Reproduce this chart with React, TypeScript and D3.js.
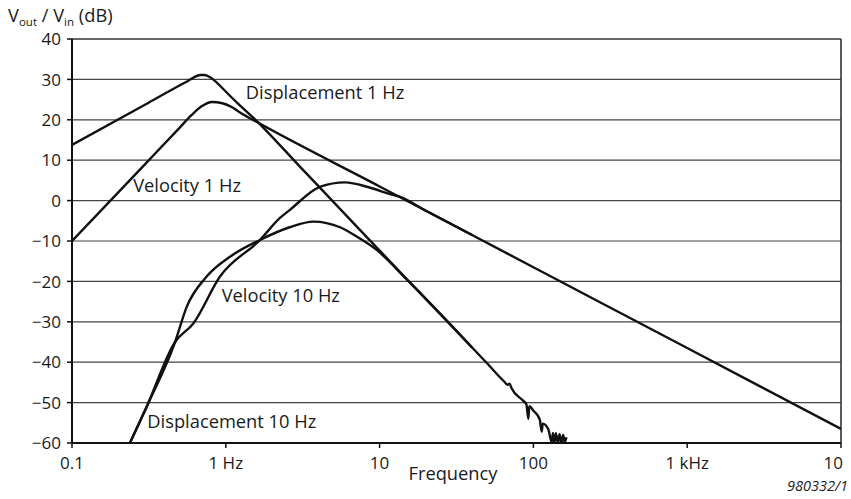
import React from "react";
import * as d3 from "d3";

const xTickValues = [0.1, 1, 10, 100, 1000, 10000];
const xTickLabels = ["0.1", "1 Hz", "10", "100", "1 kHz", "10"];
const yTickValues = [40, 30, 20, 10, 0, -10, -20, -30, -40, -50, -60];
const yTickLabels = ["40", "30", "20", "10", "0", "\u221210", "\u221220", "\u221230", "\u221240", "\u221250", "\u221260"];

// [frequency Hz, dB]
const displacement1Hz: [number, number][] = [
  [0.1, 13.8], [0.3, 23.8], [0.5, 28.5], [0.56, 29.5], [0.62, 30.5], [0.68, 31.1],
  [0.73, 31.1], [0.8, 30.4], [0.88, 29.1], [0.97, 27.5], [1.1, 25.4], [1.25, 23.4], [1.56, 20.0],
  [3, 8.6], [7.47, -7.3], [15, -19.4], [28, -30.2], [48.4, -39.7], [65, -44.9],
  [68, -45.6], [70, -45.3], [72, -46.4], [85, -49.4], [90, -50.4], [92.7, -54.0], [94, -50.9],
  [100, -52.0], [110, -54.2], [113.3, -57.2], [115, -55.2], [125, -56.6], [131.5, -59.8],
  [134, -57.5], [137, -60], [140, -57.6], [144, -59.9], [148, -57.8], [152, -60.2], [156, -58],
  [160, -59.8], [164, -58.6],
];

const velocity1Hz: [number, number][] = [
  [0.1, -10], [0.3, 9.1], [0.5, 18.0], [0.6, 21.2], [0.7, 23.4],
  [0.813, 24.4], [0.95, 24.1], [1.1, 23.1], [1.25, 21.7], [1.435, 20.4], [10, 3.5], [100, -16.5],
  [1000, -36.5], [10000, -56.5],
];

const displacement10Hz: [number, number][] = [
  [0.238, -60], [0.306, -51], [0.468, -35], [0.557, -26.3], [0.751, -18.8], [1.065, -13.9],
  [1.668, -9.75], [2.6, -6.6], [3.71, -5.2], [5.53, -6.6], [7.1, -8.9], [9.57, -12.2],
  [15, -19.5], [20, -24.3], [30, -31.3], [40, -36.4],
];

const velocity10Hz: [number, number][] = [
  [0.238, -60], [0.306, -51], [0.468, -35], [0.615, -30.4], [0.917, -18.8], [1.668, -9.75],
  [2.25, -4.3], [2.61, -2.3], [4.09, 3.4], [5.96, 4.5], [8.5, 3.3], [11.7, 1.6], [13.6, 0.9],
  [20, -2.5], [40, -8.5],
];

const curveLabels = [
  { text: "Displacement 1 Hz", f: 1.35, db: 25.1 },
  { text: "Velocity 1 Hz", f: 0.25, db: 2.2 },
  { text: "Velocity 10 Hz", f: 0.94, db: -25.0 },
  { text: "Displacement 10 Hz", f: 0.309, db: -56.4 },
];

const series = [displacement1Hz, velocity1Hz, displacement10Hz, velocity10Hz];

export default function App() {
  const W = 851;
  const H = 499;
  const left = 72, right = 841, top = 39, bottom = 443;
  const x = d3.scaleLog().domain([0.1, 10000]).range([left, right]);
  const y = d3.scaleLinear().domain([-60, 40]).range([bottom, top]);
  const line = d3
    .line<[number, number]>()
    .x((d) => x(d[0]))
    .y((d) => y(d[1]))
    .curve(d3.curveMonotoneX);

  const font = "'Open Sans', 'Noto Sans', sans-serif";
  const tickFs = 17;
  const labelFs = 18.3;

  return (
    <svg
      width={W}
      height={H}
      style={{ position: "absolute", left: 0, top: 0, background: "#fff" }}
      fontFamily={font}
    >
      <defs>
        <clipPath id="plot">
          <rect x={left} y={top - 2} width={right - left} height={bottom - top + 2.5} />
        </clipPath>
      </defs>
      {yTickValues
        .filter((v) => v !== 40 && v !== -60)
        .map((v) => (
          <line key={v} x1={left} x2={right} y1={y(v)} y2={y(v)} stroke="#444" strokeWidth={1.2} />
        ))}
      <line x1={left} x2={right} y1={top} y2={top} stroke="#333" strokeWidth={1.6} />
      <line x1={right} x2={right} y1={top} y2={bottom} stroke="#333" strokeWidth={1.6} />
      <line x1={left} x2={left} y1={top} y2={bottom + 1} stroke="#111" strokeWidth={2} />
      <line x1={left} x2={right} y1={bottom} y2={bottom} stroke="#111" strokeWidth={2} />
      {yTickValues.map((v, i) => (
        <g key={v}>
          <line x1={left - 5} x2={left} y1={y(v)} y2={y(v)} stroke="#111" strokeWidth={1.5} />
          <text x={61} y={y(v)} dy="0.36em" textAnchor="end" fontSize={tickFs} fill="#1a1a1a">
            {yTickLabels[i]}
          </text>
        </g>
      ))}
      {xTickValues.map((v, i) => (
        <g key={v}>
          <line x1={x(v)} x2={x(v)} y1={bottom} y2={bottom + 5} stroke="#111" strokeWidth={1.5} />
          <text
            x={x(v)}
            y={469}
            textAnchor={i === xTickValues.length - 1 ? "end" : "middle"}
            dx={i === xTickValues.length - 1 ? 2 : 0}
            fontSize={tickFs}
            fill="#1a1a1a"
          >
            {xTickLabels[i]}
          </text>
        </g>
      ))}
      <text x={453} y={480} textAnchor="middle" fontSize={labelFs} fill="#1a1a1a">
        Frequency
      </text>
      <text x={848} y={491} textAnchor="end" fontSize={14.5} fontStyle="italic" fill="#1a1a1a">
        980332/1
      </text>
      <text x={8} y={22} fontSize={labelFs} fill="#1a1a1a">
        V
        <tspan fontSize={11.5} dy={4}>out</tspan>
        <tspan dy={-4}> / V</tspan>
        <tspan fontSize={11.5} dy={4}>in</tspan>
        <tspan dy={-4}> (dB)</tspan>
      </text>
      <g clipPath="url(#plot)">
        {series.map((s, i) => (
          <path key={i} d={line(s) ?? ""} fill="none" stroke="#111" strokeWidth={2.4} strokeLinejoin="round" />
        ))}
      </g>
      {curveLabels.map((l) => (
        <text key={l.text} x={x(l.f)} y={y(l.db)} fontSize={labelFs} fill="#1a1a1a">
          {l.text}
        </text>
      ))}
    </svg>
  );
}
